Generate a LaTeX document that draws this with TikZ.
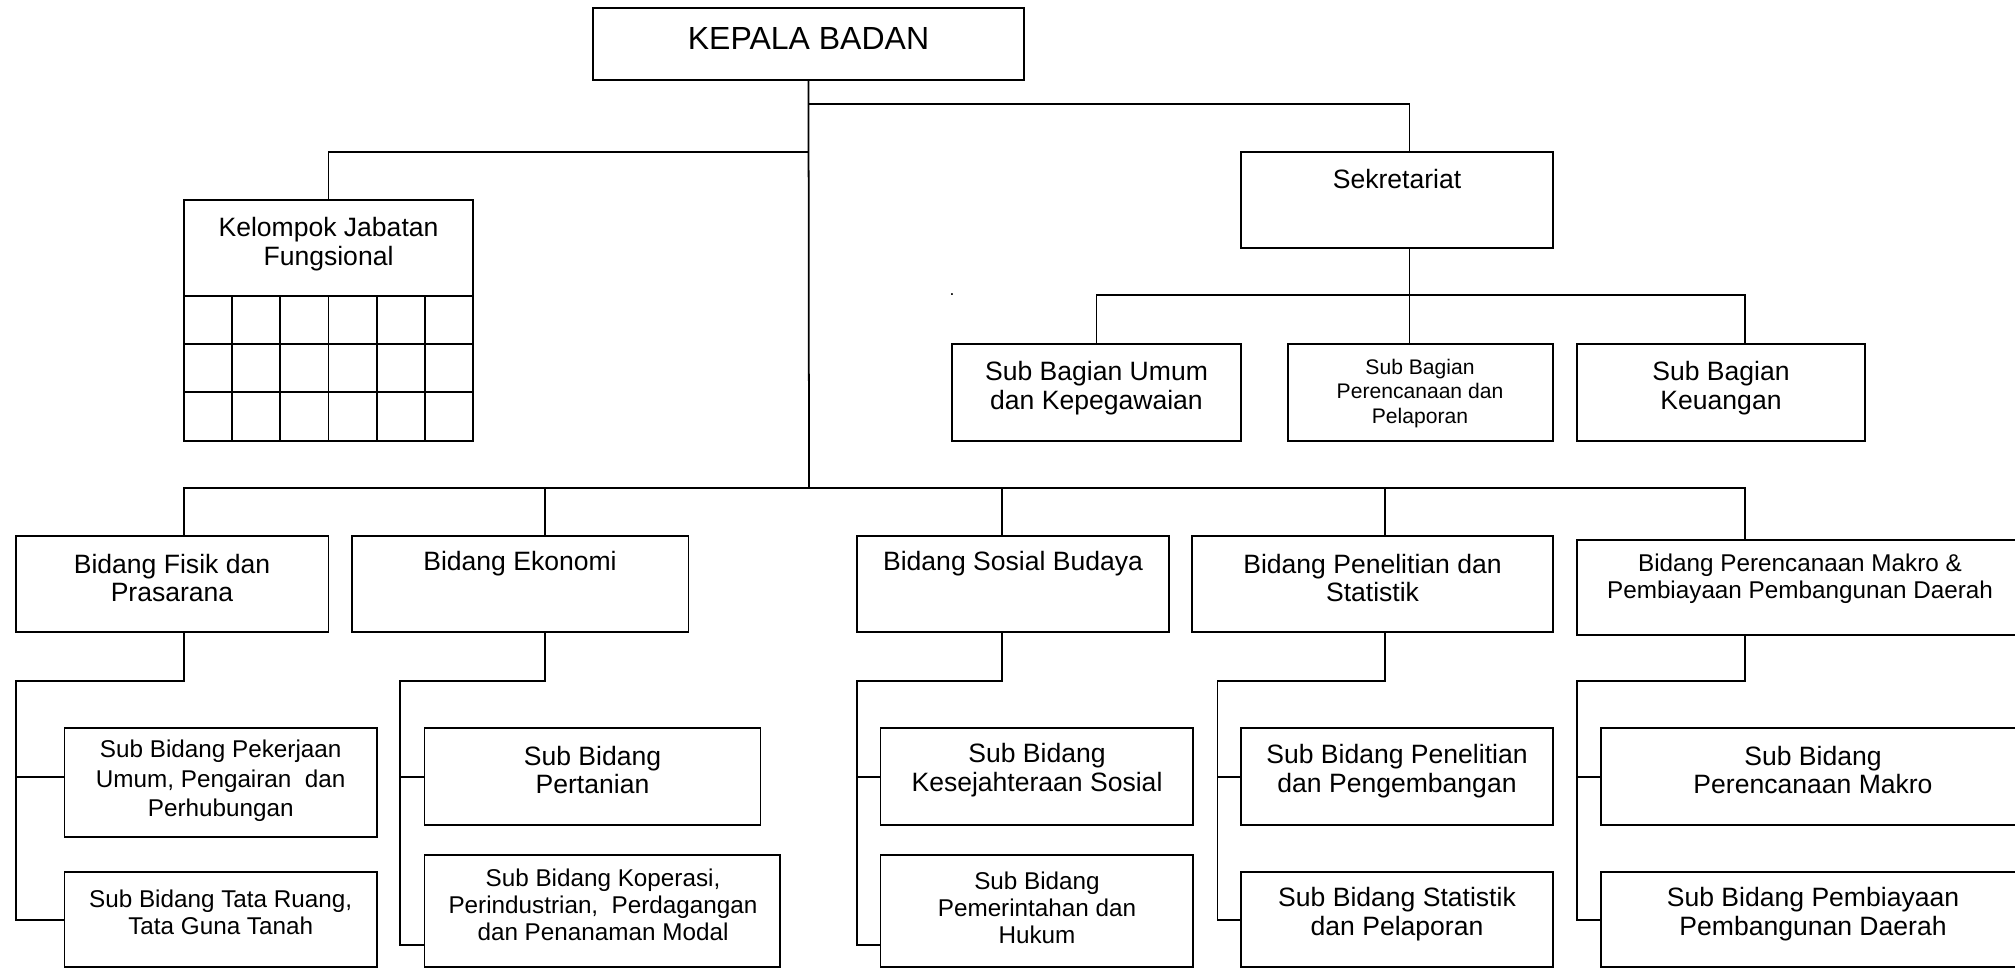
\documentclass[tikz,border=0pt]{standalone}
\usepackage{fontspec}
\setmainfont{Liberation Sans}
\usetikzlibrary{fit}

\begin{document}
\begin{tikzpicture}[
    x=0.01cm, y=-0.01cm,
    line width=0.5pt,
    box/.style={rectangle, draw, inner sep=0pt, fit={#1}},
    head/.style={inner sep=0pt, font=\fontsize{9.1}{10.5}\selectfont},
    lbl/.style={align=center, inner sep=0pt, font=\fontsize{7.55}{8.2}\selectfont},
    lblm/.style={lbl, font=\fontsize{6.9}{7.6}\selectfont},
    lbls/.style={lbl, font=\fontsize{6}{7}\selectfont}
]
    \useasboundingbox (0,0) rectangle (2015,968);
    \clip (0,0) rectangle (2015,968);

    % Pimpinan
    \node [box={(593,8) (1024,80)}] (kepala) {};
    \node [head] (kepala-t) at (808.5,38.5) {KEPALA BADAN};

    % Sekretariat
    \node [box={(1241,152) (1553,248)}] (sek) {};
    \node [lbl] (sek-t) at (1397,179) {Sekretariat};

    % Kelompok jabatan fungsional
    \node [box={(184,200) (473,441)}] (kjf) {};
    \node [lbl] (kjf-t) at (328.5,244.5) {Kelompok Jabatan\\Fungsional};
    \foreach \r in {296,344,392}
        \draw (184,\r) -- (473,\r);
    \foreach \c in {1,...,5}
        \draw (184+48.17*\c,296) -- (184+48.17*\c,441);
    \node [inner sep=0pt, font=\fontsize{5}{5}\selectfont] (titik) at (952,295) {.};

    % Sub bagian
    \node [box={(952,344) (1241,441)}] (umum) {};
    \node [lbl] (umum-t) at (1096.5,388) {Sub Bagian Umum\\dan Kepegawaian};
    \node [box={(1288,344) (1553,441)}] (renlap) {};
    \node [lbls] (renlap-t) at (1420,393.5) {Sub Bagian\\Perencanaan dan\\Pelaporan};
    \node [box={(1577,344) (1865,441)}] (keu) {};
    \node [lbl] (keu-t) at (1721,388) {Sub Bagian\\Keuangan};

    % Bidang
    \node [box={(16,536) (328.5,632)}] (fisik) {};
    \node [lbl] (fisik-t) at (172,578) {Bidang Fisik dan\\Prasarana};
    \node [box={(352,536) (688.5,632)}] (eko) {};
    \node [lbl] (eko-t) at (520,564) {Bidang Ekonomi};
    \node [box={(857,536) (1169,632)}] (sos) {};
    \node [lbl] (sos-t) at (1013,564) {Bidang Sosial Budaya};
    \node [box={(1192,536) (1553,632)}] (lit) {};
    \node [lbl] (lit-t) at (1372.5,578) {Bidang Penelitian dan\\Statistik};
    \node [box={(1577,540) (2040,635)}] (mak) {};
    \node [lblm] (mak-t) at (1800,579) {Bidang Perencanaan Makro \&\\Pembiayaan Pembangunan Daerah};

    % Sub bidang
    \node [box={(64.5,728) (377,837)}] (pu) {};
    \node [lblm, font=\fontsize{6.9}{8.4}\selectfont] (pu-t) at (220.7,781) {Sub Bidang Pekerjaan\\Umum, Pengairan~ dan\\Perhubungan};
    \node [box={(64.5,872) (377,967)}] (tr) {};
    \node [lblm] (tr-t) at (220.7,912) {Sub Bidang Tata Ruang,\\Tata Guna Tanah};
    \node [box={(424.5,728) (760.5,825)}] (tani) {};
    \node [lbl] (tani-t) at (592.5,770) {Sub Bidang\\Pertanian};
    \node [box={(424.5,855) (780,967)}] (kop) {};
    \node [lblm] (kop-t) at (603,905) {Sub Bidang Koperasi,\\Perindustrian,~ Perdagangan\\dan Penanaman Modal};
    \node [box={(880.5,728) (1193,825)}] (kesos) {};
    \node [lbl] (kesos-t) at (1037,770) {Sub Bidang\\Kesejahteraan Sosial};
    \node [box={(880.5,855) (1193,967)}] (pemhuk) {};
    \node [lblm] (pemhuk-t) at (1037,908) {Sub Bidang\\Pemerintahan dan\\Hukum};
    \node [box={(1241,728) (1553,825)}] (litbang) {};
    \node [lbl] (litbang-t) at (1397,771) {Sub Bidang Penelitian\\dan Pengembangan};
    \node [box={(1241,872) (1553,967)}] (stat) {};
    \node [lbl] (stat-t) at (1397,914) {Sub Bidang Statistik\\dan Pelaporan};
    \node [box={(1601,728) (2040,825)}] (makro) {};
    \node [lbl] (makro-t) at (1813,770) {Sub Bidang\\Perencanaan Makro};
    \node [box={(1601,872) (2040,967)}] (biaya) {};
    \node [lbl] (biaya-t) at (1813,914) {Sub Bidang Pembiayaan\\Pembangunan Daerah};

    % Garis atas
    \coordinate (bus) at (809,488);
    \coordinate (dsek) at (1409.5,104);
    \coordinate (dkjf) at (328.5,152);
    \coordinate (dkeu) at (1745,344);
    \draw (kepala.south) -- (bus);
    \draw (kepala.south |- dsek) -| (dsek |- sek.north);
    \draw (kepala.south |- dkjf) -| (kjf.north);
    \draw (dsek |- sek.south) -- (dsek |- renlap.north);
    \draw (umum.north) -- ++(0,-48) -| (dkeu);

    % Garis bidang
    \coordinate (dfisik) at (184,536);
    \coordinate (deko) at (545,536);
    \coordinate (dsos) at (1002,536);
    \coordinate (dlit) at (1385,536);
    \coordinate (dmak) at (1745,540);
    \draw (dfisik) |- (bus) -| (dmak);
    \draw (deko) -- (deko |- bus);
    \draw (dsos) -- (dsos |- bus);
    \draw (dlit) -- (dlit |- bus);

    % Garis sub bidang
    \coordinate (sfisik) at (16,681);
    \coordinate (afisik) at (16,776.7);
    \coordinate (bfisik) at (16,920);
    \draw (dfisik |- fisik.south) |- (sfisik) -- (bfisik) -- (bfisik -| tr.west);
    \draw (afisik) -- (afisik -| pu.west);

    \coordinate (seko) at (400,681);
    \coordinate (aeko) at (400,776.7);
    \coordinate (beko) at (400,945);
    \draw (deko |- eko.south) |- (seko) -- (beko) -- (beko -| kop.west);
    \draw (aeko) -- (aeko -| tani.west);

    \coordinate (ssos) at (857,681);
    \coordinate (asos) at (857,776.7);
    \coordinate (bsos) at (857,945);
    \draw (dsos |- sos.south) |- (ssos) -- (bsos) -- (bsos -| pemhuk.west);
    \draw (asos) -- (asos -| kesos.west);

    \coordinate (slit) at (1217.5,681);
    \coordinate (alit) at (1217.5,776.7);
    \coordinate (blit) at (1217.5,920);
    \draw (dlit |- lit.south) |- (slit) -- (blit) -- (blit -| stat.west);
    \draw (alit) -- (alit -| litbang.west);

    \coordinate (smak) at (1577,681);
    \coordinate (amak) at (1577,776.7);
    \coordinate (bmak) at (1577,920);
    \draw (dmak |- mak.south) |- (smak) -- (bmak) -- (bmak -| biaya.west);
    \draw (amak) -- (amak -| makro.west);
\end{tikzpicture}
\end{document}
